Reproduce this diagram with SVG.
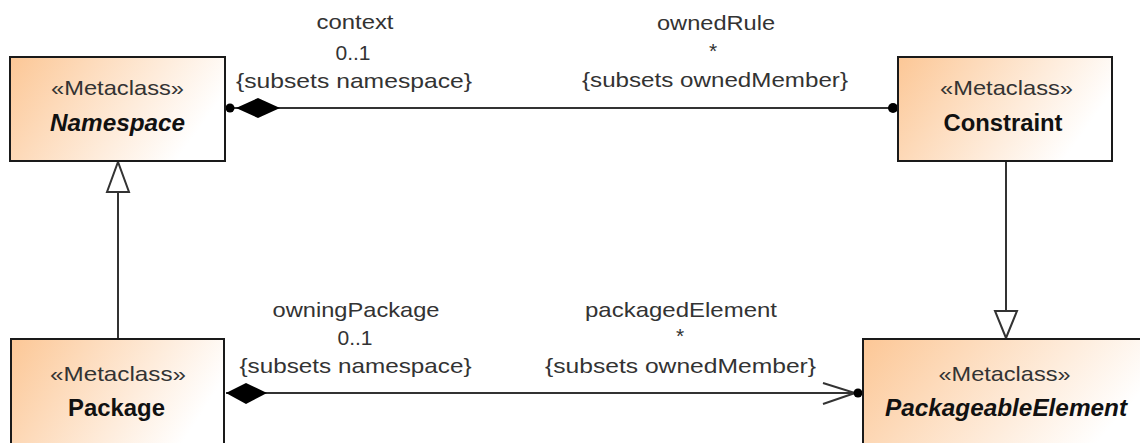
<svg xmlns="http://www.w3.org/2000/svg" width="1140" height="443" viewBox="0 0 1140 443">
<defs>
<linearGradient id="g" x1="0" y1="0" x2="1" y2="0.35">
<stop offset="0" stop-color="#FCC796"/>
<stop offset="1" stop-color="#FFFFFF"/>
</linearGradient>
<style>
.box{fill:url(#g);stroke:#1a1a1a;stroke-width:2}
.st{font-family:"Liberation Sans",Arial,sans-serif;font-size:21px;fill:#333;text-anchor:middle}
.nm{font-family:"Liberation Sans",Arial,sans-serif;font-size:23px;font-weight:bold;fill:#111;text-anchor:middle}
.it{font-style:italic}
.lb{font-family:"Liberation Sans",Arial,sans-serif;font-size:21px;fill:#333;text-anchor:middle}
.ln{stroke:#333;stroke-width:2;fill:none}
.tri{stroke:#333;stroke-width:2;fill:#fff}
.dia{fill:#000;stroke:none}
.dot{fill:#000}
</style>
</defs>
<rect width="1140" height="443" fill="#fff"/>
<g id="connectors">
<g id="namespace-constraint">
<line class="ln" x1="230" y1="108" x2="893" y2="108"/>
<polygon class="dia" points="236,108 258,98 280,108 258,118"/>
<circle class="dot" cx="230" cy="108" r="4.5"/>
<circle class="dot" cx="893" cy="108" r="5"/>
<text class="lb" x="355" y="29" textLength="77" lengthAdjust="spacingAndGlyphs">context</text>
<text class="lb" x="353" y="60">0..1</text>
<text class="lb" x="354" y="88" textLength="236" lengthAdjust="spacingAndGlyphs">{subsets namespace}</text>
<text class="lb" x="716" y="30" textLength="118" lengthAdjust="spacingAndGlyphs">ownedRule</text>
<text class="lb" x="713" y="58">*</text>
<text class="lb" x="715" y="87" textLength="266" lengthAdjust="spacingAndGlyphs">{subsets ownedMember}</text>
</g>
<g id="package-packageable">
<line class="ln" x1="226" y1="393" x2="858" y2="393"/>
<polygon class="dia" points="226,393 246,383 267,393 246,404"/>
<polyline class="ln" points="823,383 855,393 823,404"/>
<circle class="dot" cx="858" cy="393" r="4.5"/>
<text class="lb" x="356" y="317" textLength="167" lengthAdjust="spacingAndGlyphs">owningPackage</text>
<text class="lb" x="355" y="345">0..1</text>
<text class="lb" x="355.5" y="373" textLength="232" lengthAdjust="spacingAndGlyphs">{subsets namespace}</text>
<text class="lb" x="681" y="317" textLength="192" lengthAdjust="spacingAndGlyphs">packagedElement</text>
<text class="lb" x="680" y="343">*</text>
<text class="lb" x="680.5" y="373" textLength="271" lengthAdjust="spacingAndGlyphs">{subsets ownedMember}</text>
</g>
<g id="package-namespace">
<line class="ln" x1="118" y1="339" x2="118" y2="192"/>
<polygon class="tri" points="107,192 129,192 118,162"/>
</g>
<g id="constraint-packageable">
<line class="ln" x1="1006" y1="162" x2="1006" y2="311"/>
<polygon class="tri" points="995,311 1017,311 1006,338"/>
</g>
</g>
<g id="Namespace">
<rect class="box" x="10" y="57" width="215" height="104"/>
<text class="st" x="117.5" y="95" textLength="133" lengthAdjust="spacingAndGlyphs">«Metaclass»</text>
<text class="nm it" x="117.5" y="131" textLength="135" lengthAdjust="spacingAndGlyphs">Namespace</text>
</g>
<g id="Constraint">
<rect class="box" x="898" y="57" width="214" height="104"/>
<text class="st" x="1006.5" y="95" textLength="133" lengthAdjust="spacingAndGlyphs">«Metaclass»</text>
<text class="nm" x="1003" y="131" textLength="119" lengthAdjust="spacingAndGlyphs">Constraint</text>
</g>
<g id="Package">
<rect class="box" x="11" y="339" width="213" height="115"/>
<text class="st" x="118" y="381" textLength="136" lengthAdjust="spacingAndGlyphs">«Metaclass»</text>
<text class="nm" x="116.5" y="416" textLength="97" lengthAdjust="spacingAndGlyphs">Package</text>
</g>
<g id="PackageableElement">
<rect class="box" x="863" y="339" width="290" height="115"/>
<text class="st" x="1004.5" y="381" textLength="132" lengthAdjust="spacingAndGlyphs">«Metaclass»</text>
<text class="nm it" x="1006" y="416" textLength="242" lengthAdjust="spacingAndGlyphs">PackageableElement</text>
</g>
</svg>
